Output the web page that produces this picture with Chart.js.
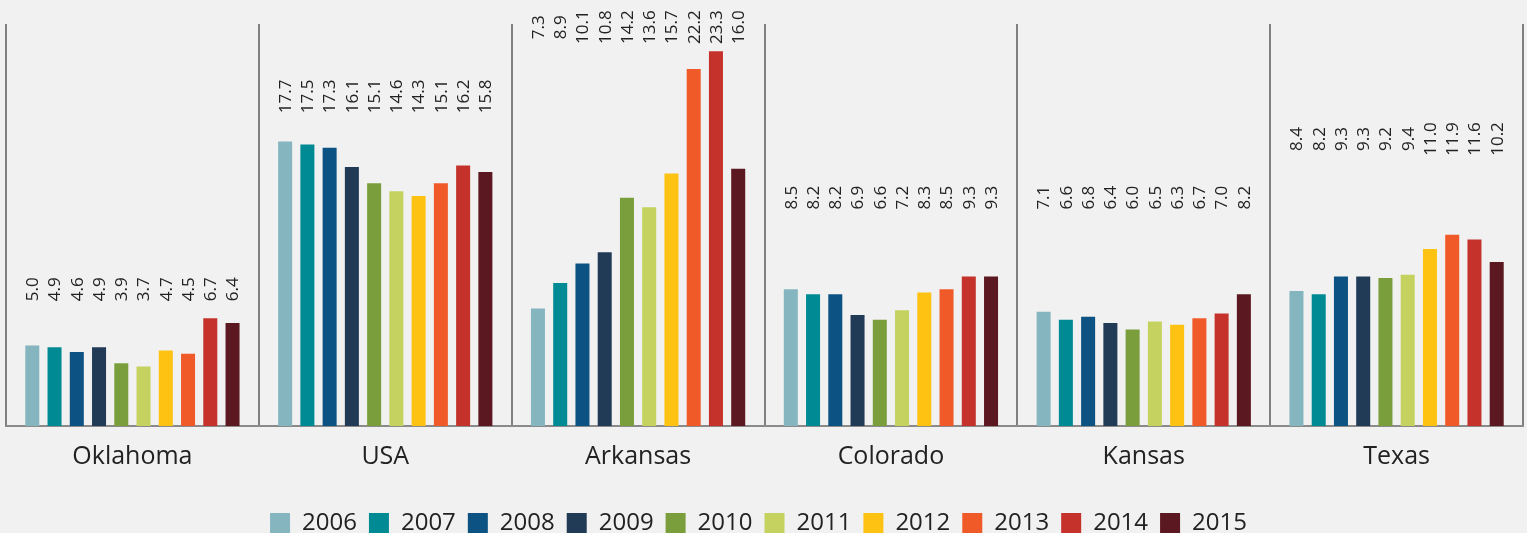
<!DOCTYPE html>
<html>
<head>
<meta charset="utf-8">
<script src="https://cdn.jsdelivr.net/npm/chart.js@4/dist/chart.umd.min.js"></script>
<style>
  html, body { margin: 0; padding: 0; background: #f1f1f1; overflow: hidden; }
  #wrap { position: relative; width: 1527px; height: 545px; }
</style>
</head>
<body>
<div id="wrap"><canvas id="c"></canvas></div>
<script>
// ---- data ----
const categories = ["Oklahoma", "USA", "Arkansas", "Colorado", "Kansas", "Texas"];
const years = ["2006", "2007", "2008", "2009", "2010", "2011", "2012", "2013", "2014", "2015"];
const v2006 = [5.0, 17.7, 7.3, 8.5, 7.1, 8.4];
const v2007 = [4.9, 17.5, 8.9, 8.2, 6.6, 8.2];
const v2008 = [4.6, 17.3, 10.1, 8.2, 6.8, 9.3];
const v2009 = [4.9, 16.1, 10.8, 6.9, 6.4, 9.3];
const v2010 = [3.9, 15.1, 14.2, 6.6, 6.0, 9.2];
const v2011 = [3.7, 14.6, 13.6, 7.2, 6.5, 9.4];
const v2012 = [4.7, 14.3, 15.7, 8.3, 6.3, 11.0];
const v2013 = [4.5, 15.1, 22.2, 8.5, 6.7, 11.9];
const v2014 = [6.7, 16.2, 23.3, 9.3, 7.0, 11.6];
const v2015 = [6.4, 15.8, 16.0, 9.3, 8.2, 10.2];
// level (in value units) at which each group's rotated value labels are centred
const labelLevels = [8.5, 20.5, 24.8, 14.2, 14.2, 17.85];

const seriesValues = [v2006, v2007, v2008, v2009, v2010, v2011, v2012, v2013, v2014, v2015];
const colors = ["#85b6c0", "#008a94", "#0c5384", "#213a56", "#7a9e3c",
                "#c5d25f", "#fec212", "#f05a28", "#c4322b", "#5c1820"];
const FONT = "'Open Sans', 'Noto Sans', sans-serif";

const valueLabels = {
  id: "valueLabels",
  afterDatasetsDraw(chart) {
    const ctx = chart.ctx;
    const y = chart.scales.y;
    ctx.save();
    ctx.fillStyle = "#222";
    ctx.font = "17px " + FONT;
    ctx.textAlign = "center";
    ctx.textBaseline = "middle";
    chart.data.datasets.forEach((ds, i) => {
      const meta = chart.getDatasetMeta(i);
      meta.data.forEach((bar, j) => {
        ctx.save();
        ctx.translate(bar.x, y.getPixelForValue(labelLevels[j]));
        ctx.rotate(-Math.PI / 2);
        ctx.fillText(ds.data[j].toFixed(1), 0, 1);
        ctx.restore();
      });
    });
    ctx.restore();
  }
};

const legendShift = {
  id: "legendShift",
  afterLayout(chart) {
    if (chart.legend) { chart.legend.left -= 6; chart.legend.right -= 6; }
  }
};

new Chart(document.getElementById("c"), {
  type: "bar",
  data: {
    labels: categories,
    datasets: years.map((yr, i) => ({
      label: yr,
      data: seriesValues[i],
      backgroundColor: colors[i],
      borderWidth: 0,
      categoryPercentage: 0.88,
      barPercentage: 0.63
    }))
  },
  options: {
    responsive: true,
    maintainAspectRatio: false,
    animation: false,
    layout: { padding: { top: 24, left: 6, right: 4, bottom: 0 } },
    plugins: {
      tooltip: { enabled: false },
      legend: {
        position: "bottom",
        labels: {
          boxWidth: 20, boxHeight: 20, padding: 12,
          color: "#222",
          font: { family: FONT, size: 24 }
        }
      }
    },
    scales: {
      x: {
        grid: { offset: true, color: "#808080", lineWidth: 2, drawTicks: false },
        border: { display: true, color: "#8a8a8a", width: 2 },
        ticks: { color: "#222", font: { family: FONT, size: 25 }, padding: 16 },
        afterFit(scale) { scale.height += 11; }
      },
      y: {
        display: false,
        min: 0, max: 25
      }
    }
  },
  plugins: [valueLabels, legendShift]
});
</script>
</body>
</html>
